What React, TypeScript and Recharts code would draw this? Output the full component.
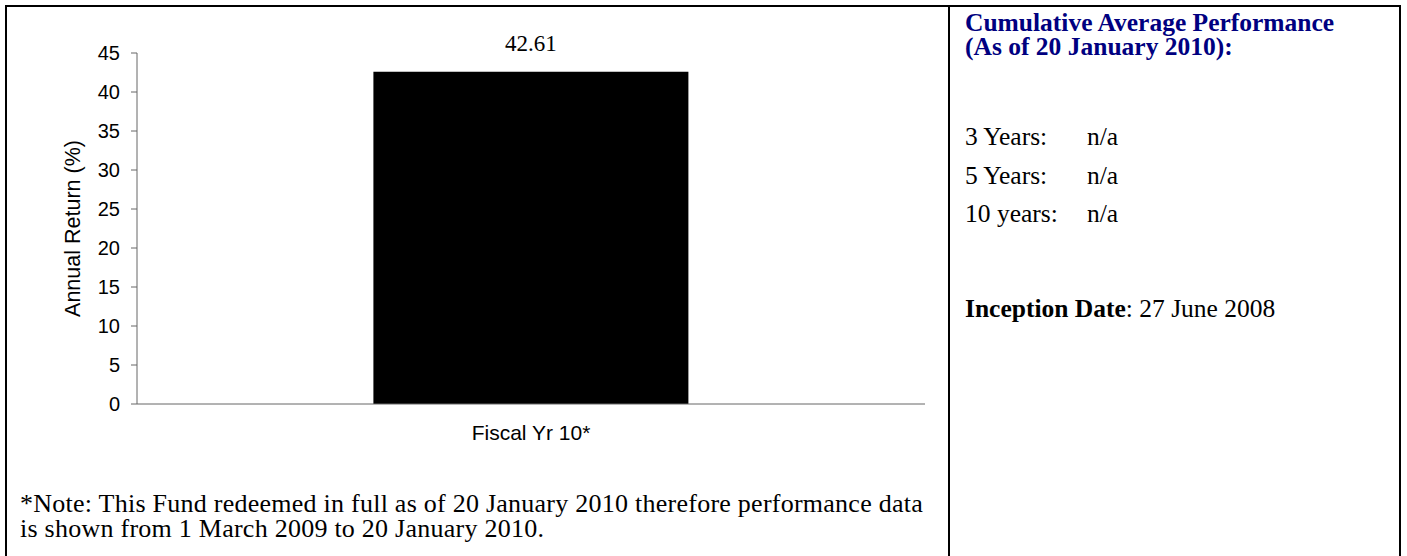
import { BarChart, Bar, XAxis, YAxis, LabelList } from "recharts";

const categories = ["Fiscal Yr 10*"];
const annualReturn = [42.61];
const yTicks = [0, 5, 10, 15, 20, 25, 30, 35, 40, 45];
const edgeTicks = [0, 1];

const periods = ["3 Years:", "5 Years:", "10 years:"];
const periodValues = ["n/a", "n/a", "n/a"];

const data = categories.map((name, i) => ({ name, value: annualReturn[i] }));

const serif = "'Liberation Serif', 'Times New Roman', serif";
const sans = "'Liberation Sans', Arial, sans-serif";
const axisColor = "#666";

function ReturnChart() {
  return (
    <BarChart
      width={949}
      height={460}
      data={data}
      margin={{ top: 53, right: 24, bottom: 16, left: 7 }}
      barCategoryGap="30%"
    >
      {/* only draws the tick marks at the two category edges, Excel style */}
      <XAxis
        xAxisId="edge"
        type="number"
        domain={[0, 1]}
        ticks={edgeTicks}
        allowDataOverflow
        tick={false}
        axisLine={false}
        tickSize={6}
        height={0}
        stroke={axisColor}
      />
      <XAxis
        dataKey="name"
        height={40}
        tickLine={false}
        tickSize={0}
        tickMargin={21}
        stroke={axisColor}
        tick={{ fill: "#000", fontSize: 21, fontFamily: sans }}
      />
      <YAxis
        domain={[0, 45]}
        ticks={yTicks}
        interval={0}
        width={130}
        tickSize={6}
        tickMargin={11}
        stroke={axisColor}
        tick={{ fill: "#000", fontSize: 20, fontFamily: sans }}
        label={{
          value: "Annual Return (%)",
          angle: -90,
          position: "center",
          fill: "#000",
          fontSize: 21.5,
          fontFamily: sans,
        }}
      />
      <Bar dataKey="value" fill="#000" isAnimationActive={false}>
        <LabelList
          dataKey="value"
          position="top"
          offset={21}
          fill="#000"
          fontSize={23}
          fontFamily={serif}
        />
      </Bar>
    </BarChart>
  );
}

export default function App() {
  const textBase = {
    position: "absolute" as const,
    fontFamily: serif,
    fontSize: 25.5,
    color: "#000",
    whiteSpace: "nowrap" as const,
  };
  return (
    <div style={{ position: "absolute", left: 0, top: 0, width: 1407, height: 556, overflow: "hidden", background: "#fff" }}>
      <div style={{ position: "absolute", left: 5, top: 5, width: 1392, height: 600, border: "2px solid #000" }} />
      <div style={{ position: "absolute", left: 948, top: 5, width: 2, height: 600, background: "#000" }} />
      <div style={{ position: "absolute", left: 0, top: 0 }}>
        <ReturnChart />
      </div>
      <div style={{ ...textBase, left: 20, top: 491, fontSize: 26, letterSpacing: 0.25, lineHeight: "25px" }}>
        *Note: This Fund redeemed in full as of 20 January 2010 therefore performance data
        <br />
        is shown from 1 March 2009 to 20 January 2010.
      </div>
      <div style={{ ...textBase, left: 965, top: 11, lineHeight: "24px", fontWeight: "bold", color: "#000080" }}>
        Cumulative Average Performance
        <br />
        (As of 20 January 2010):
      </div>
      <div style={{ ...textBase, left: 965, top: 118, lineHeight: "38.5px" }}>
        {periods.map((p, i) => (
          <div key={p}>
            <span style={{ display: "inline-block", width: 122 }}>{p}</span>
            {periodValues[i]}
          </div>
        ))}
      </div>
      <div style={{ ...textBase, left: 965, top: 294, lineHeight: "30px" }}>
        <b>Inception Date</b>: 27 June 2008
      </div>
    </div>
  );
}
